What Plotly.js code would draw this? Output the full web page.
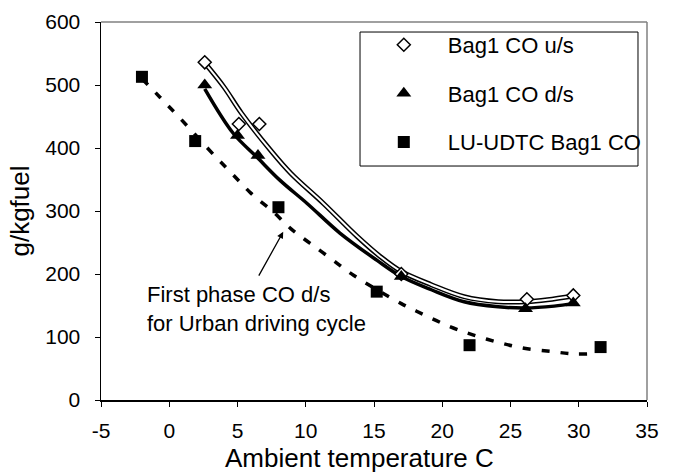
<!DOCTYPE html>
<html>
<head>
<meta charset="utf-8">
<script src="https://cdn.plot.ly/plotly-3.0.1.min.js"></script>
<style>html,body{margin:0;padding:0;background:#fff;}#chart{width:675px;height:476px;}</style>
</head>
<body>
<div id="chart"></div>
<script>
// Measured points
var usTemp = [2.6, 5.1, 6.6, 17.0, 26.2, 29.6];
var usCO   = [536, 438, 438, 200, 160, 166];
var dsTemp = [2.6, 5.0, 6.5, 17.0, 26.1, 29.6];
var dsCO   = [500, 420, 388, 196, 145, 154];
var luTemp = [-2.0, 1.9, 8.0, 15.2, 22.0, 31.6];
var luCO   = [513, 411, 306, 172, 87, 84];

// Trend curves
var usFitT = [2.6, 4.0, 5.3, 7.4, 8.9, 11.3, 13.8, 15.5, 17.0, 19.2, 21.6, 24.1, 26.2, 27.7, 29.6];
var usFitV = [535, 497, 455, 397, 360, 312, 259, 227, 204, 183, 164, 156, 156, 159, 165];
var dsFitT = [2.6, 4.7, 6.4, 8.1, 10.1, 12.5, 15.2, 17.0, 19.2, 21.6, 24.1, 26.1, 28.2, 29.6];
var dsFitV = [494, 423, 386, 349, 312, 265, 222, 196, 175, 156, 148, 146, 149, 153];
var luFitT = [-2.0, -0.7, 0.8, 3.4, 4.7, 6.0, 7.6, 8.9, 10.3, 12.0, 13.5, 17.0, 18.7, 20.6, 22.3, 24.2, 26.0, 28.0, 29.7, 31.4];
var luFitV = [510, 481, 447, 386, 357, 328, 299, 272, 249, 222, 198, 153, 135, 116, 103, 91, 82, 77, 73, 74];

// Tick labels
var xTickVals = [-5, 0, 5, 10, 15, 20, 25, 30, 35];
var xTickText = ['-5', '0', '5', '10', '15', '20', '25', '30', '35'];
var yTickVals = [0, 100, 200, 300, 400, 500, 600];
var yTickText = ['0', '100', '200', '300', '400', '500', '600'];

var seriesNames = ['Bag1 CO u/s', 'Bag1 CO d/s', 'LU-UDTC Bag1 CO'];
var xTitle = 'Ambient temperature C';
var yTitle = 'g/kgfuel';
var noteText = 'First phase CO d/s<br>for Urban driving cycle';

var FONT = 'Liberation Sans, Arial, sans-serif';

var traces = [
  {x: usFitT, y: usFitV, mode: 'lines', line: {color: '#000', width: 5, shape: 'spline'}, showlegend: false, hoverinfo: 'skip'},
  {x: usFitT, y: usFitV, mode: 'lines', line: {color: '#fff', width: 2, shape: 'spline'}, showlegend: false, hoverinfo: 'skip'},
  {x: dsFitT, y: dsFitV, mode: 'lines', line: {color: '#000', width: 3.5, shape: 'spline'}, showlegend: false, hoverinfo: 'skip'},
  {x: luFitT, y: luFitV, mode: 'lines', line: {color: '#000', width: 3.5, dash: '8px,11px', shape: 'spline'}, showlegend: false, hoverinfo: 'skip'},
  {x: usTemp, y: usCO, mode: 'markers', name: seriesNames[0], legendgroup: 'a',
   marker: {symbol: 'diamond', size: 10, color: '#fff', line: {color: '#000', width: 1.5}}},
  {x: dsTemp, y: dsCO, mode: 'markers', name: seriesNames[1], legendgroup: 'b',
   marker: {symbol: 'triangle-up', size: 13, color: '#000', line: {color: '#000', width: 0}}},
  {x: luTemp, y: luCO, mode: 'markers', name: seriesNames[2], legendgroup: 'c',
   marker: {symbol: 'square', size: 12, color: '#000', line: {color: '#000', width: 0}}}
];

var layout = {
  width: 675, height: 476,
  margin: {l: 101, r: 28, t: 22, b: 76, pad: 0},
  paper_bgcolor: '#fff', plot_bgcolor: '#fff',
  font: {family: FONT, color: '#000', size: 21},
  showlegend: true,
  legend: {
    x: 0.474, xanchor: 'left', y: 0.995, yanchor: 'top',
    bgcolor: 'rgba(0,0,0,0)', borderwidth: 0,
    font: {family: FONT, size: 22, color: '#000'},
    tracegroupgap: 17, itemwidth: 78
  },
  xaxis: {
    range: [-5, 35], tickmode: 'array', tickvals: xTickVals, ticktext: xTickText,
    showgrid: false, zeroline: false,
    showline: true, linecolor: '#000', linewidth: 1.5,
    ticks: 'outside', ticklen: 5, tickwidth: 1, tickcolor: '#000',
    ticklabelstandoff: 6,
    tickfont: {family: FONT, size: 21, color: '#000'}
  },
  yaxis: {
    range: [0, 600], tickmode: 'array', tickvals: yTickVals, ticktext: yTickText,
    showgrid: false, zeroline: false,
    showline: true, linecolor: '#000', linewidth: 1.5,
    ticks: 'outside', ticklen: 5, tickwidth: 1, tickcolor: '#000',
    ticklabelstandoff: 10,
    tickfont: {family: FONT, size: 21, color: '#000'},
    title: {text: yTitle, font: {family: FONT, size: 26, color: '#000'}, standoff: 8}
  },
  shapes: [
    {type: 'line', xref: 'paper', yref: 'paper', x0: 0, x1: 1, y0: 1, y1: 1, line: {color: '#808080', width: 1.5}},
    {type: 'line', xref: 'paper', yref: 'paper', x0: 1, x1: 1, y0: 0, y1: 1, line: {color: '#808080', width: 1.5}},
    {type: 'rect', xref: 'paper', yref: 'paper', x0: 0.4744, x1: 0.9835, y0: 0.619, y1: 0.9735,
     line: {color: '#000', width: 1}, fillcolor: 'rgba(0,0,0,0)', layer: 'above'}
  ],
  annotations: [
    {x: 0.474, y: -0.197, xref: 'paper', yref: 'paper', xanchor: 'center', yanchor: 'bottom',
     borderpad: 0, text: xTitle, showarrow: false, font: {family: FONT, size: 26, color: '#000'}},
    {x: -1.8, y: 145, xref: 'x', yref: 'y', xanchor: 'left', yanchor: 'middle', align: 'left',
     text: noteText, showarrow: false, font: {family: FONT, size: 22, color: '#000'}},
    {x: 8.35, y: 267, xref: 'x', yref: 'y', ax: 6.5, ay: 195, axref: 'x', ayref: 'y',
     text: '', showarrow: true, arrowhead: 2, arrowsize: 1, arrowwidth: 1.3, arrowcolor: '#000', standoff: 0}
  ]
};

Plotly.newPlot('chart', traces, layout, {displayModeBar: false, staticPlot: true});
</script>
</body>
</html>
